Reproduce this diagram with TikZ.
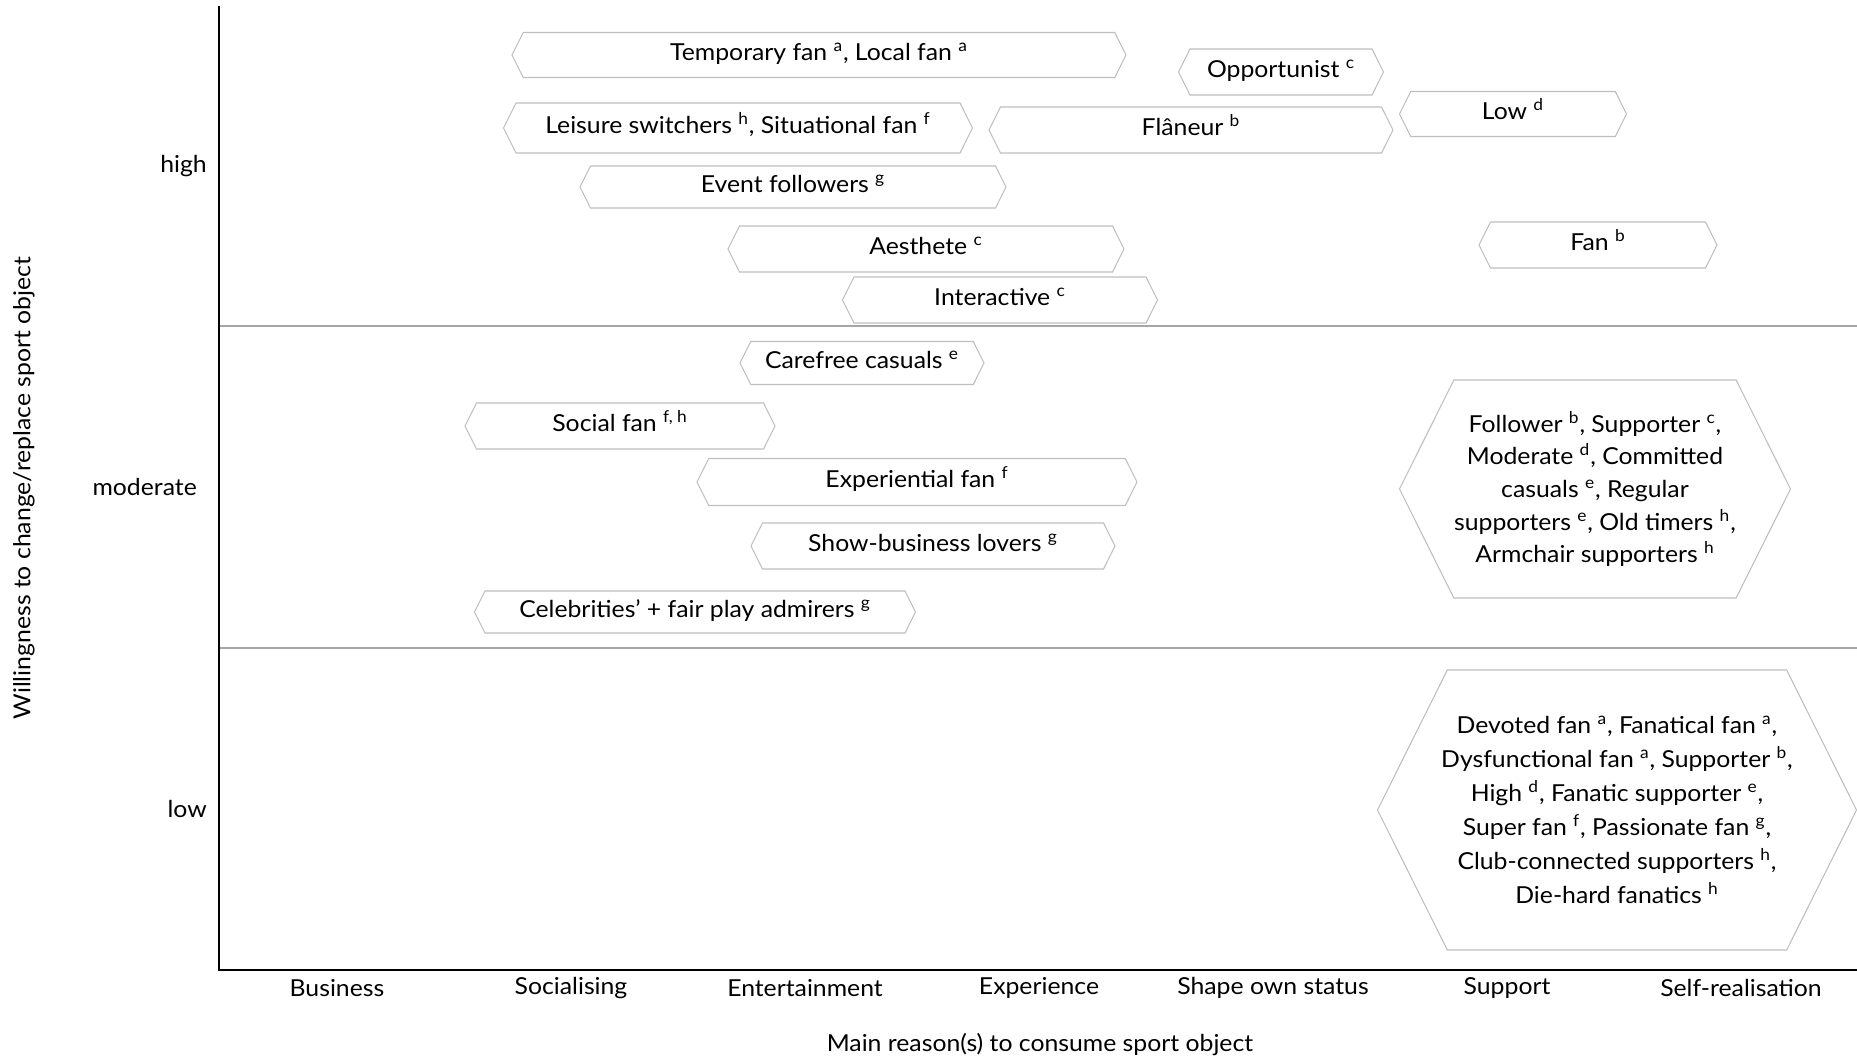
\documentclass[tikz,border=0pt]{standalone}
\usepackage{fontspec}
\setmainfont{Lato}[FakeStretch=1.06]
\usetikzlibrary{shapes.symbols}
\definecolor{boxgray}{RGB}{190,190,190}
\definecolor{rulegray}{RGB}{166,166,166}
\newcommand{\fnmark}[1]{\textsuperscript{#1}}
\begin{document}
\begin{tikzpicture}[x=0.02cm, y=-0.02cm,
    font=\fontsize{13.3}{18.6}\selectfont,
    fanbox/.style 2 args={shape=signal, signal to=west and east,
      signal pointer angle=127, draw=boxgray, line width=0.6pt,
      inner sep=0pt, align=center,
      minimum width=#1*0.02cm, minimum height=#2*0.02cm},
    fantag/.style 2 args={fanbox={#1}{#2}, text height=9.5pt, text depth=3.6pt},
    fanblock/.style 2 args={fanbox={#1}{#2}, inner xsep=-6pt}]
    \useasboundingbox (0,0) rectangle (1857,1061);

    \draw[rulegray, line width=0.8pt] (219,326) -- (1857,326);
    \draw[rulegray, line width=0.8pt] (219,648) -- (1857,648);
    \draw[line width=1.1pt] (219,6) -- (219,970) -- (1857,970);

    \node[anchor=east] (high) at (213,166) {high};
    \node[anchor=east] (moderate) at (203,487) {moderate};
    \node[anchor=east] (low) at (213,809) {low};
    \node[rotate=90] (ytitle) at (24,488) {Willingness to change/replace sport object};

    \foreach \cat [count=\i from 0] in {Business, Socialising, Entertainment,
        Experience, Shape own status, Support, Self-realisation}
      \node (cat\i) at ({337+234*\i},988) {\cat};
    \node (xtitle) at (1040,1045) {Main reason(s) to consume sport object};

    \node[fantag={614}{45}] (temporary) at (819,55) {Temporary fan \fnmark{a}, Local fan \fnmark{a}};
    \node[fantag={205}{46}] (opportunist) at (1281,72) {Opportunist \fnmark{c}};
    \node[fantag={469}{50}] (leisure) at (738,128) {Leisure switchers \fnmark{h}, Situational fan \fnmark{f}};
    \node[fantag={404}{46}] (flaneur) at (1191,130) {Flâneur \fnmark{b}};
    \node[fantag={227}{45}] (lowd) at (1513,114) {Low \fnmark{d}};
    \node[fantag={426}{42}] (event) at (793,187) {Event followers \fnmark{g}};
    \node[fantag={396}{46}] (aesthete) at (926,249) {Aesthete \fnmark{c}};
    \node[fantag={238}{46}] (fan) at (1598,245) {Fan \fnmark{b}};
    \node[fantag={315}{46}] (interactive) at (1000,300) {Interactive \fnmark{c}};

    \node[fantag={244}{43}] (carefree) at (862,363) {Carefree casuals \fnmark{e}};
    \node[fantag={310}{46}] (social) at (620,426) {Social fan \fnmark{f, h}};
    \node[fantag={440}{47}] (experiential) at (917,482) {Experiential fan \fnmark{f}};
    \node[fantag={364}{46}] (showbiz) at (933,546) {Show-business lovers \fnmark{g}};
    \node[fantag={441}{42}] (celebrities) at (695,612) {Celebrities’ + fair play admirers \fnmark{g}};
    \node[fanblock={391}{218}] (follower) at (1595,489) {Follower \fnmark{b}, Supporter \fnmark{c},\\
      Moderate \fnmark{d}, Committed\\ casuals \fnmark{e}, Regular\\
      supporters \fnmark{e}, Old timers \fnmark{h},\\ Armchair supporters \fnmark{h}};

    \node[fanblock={479}{280}, font=\fontsize{13.3}{19.4}\selectfont] (devoted) at (1617,810) {Devoted fan \fnmark{a}, Fanatical fan \fnmark{a},\\
      Dysfunctional fan \fnmark{a}, Supporter \fnmark{b},\\ High \fnmark{d}, Fanatic supporter \fnmark{e},\\
      Super fan \fnmark{f}, Passionate fan \fnmark{g},\\ Club-connected supporters \fnmark{h},\\
      Die-hard fanatics \fnmark{h}};
  \end{tikzpicture}
\end{document}
